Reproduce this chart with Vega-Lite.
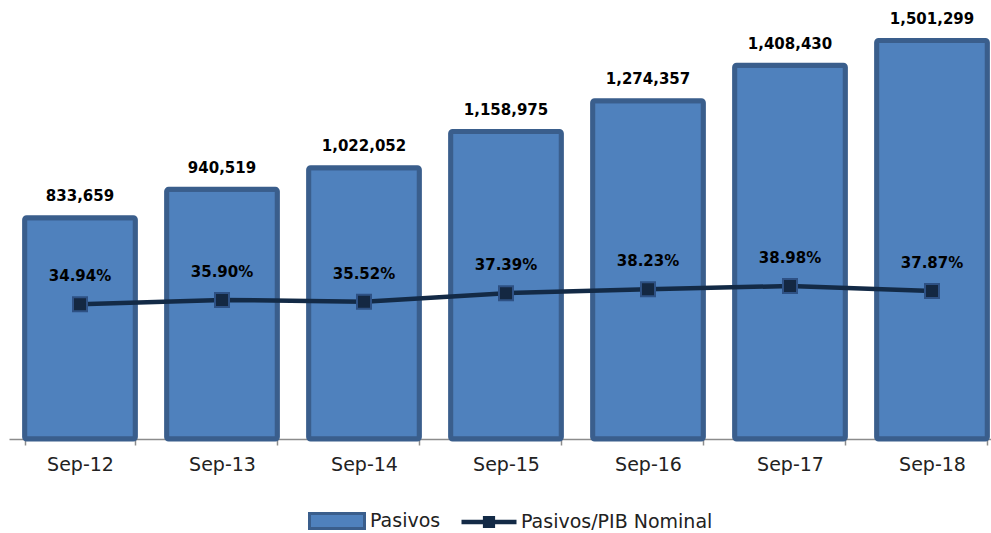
{
  "$schema": "https://vega.github.io/schema/vega-lite/v6.json",
  "autosize": "none",
  "width": 982,
  "height": 439,
  "padding": {"left": 9, "top": 0, "right": 0, "bottom": 94},
  "background": "white",
  "config": {
    "view": {"stroke": null},
    "font": "DejaVu Sans"
  },
  "data": {
    "values": [
      {"period": "Sep-12", "pasivos": 833659, "ratio": 0.3494},
      {"period": "Sep-13", "pasivos": 940519, "ratio": 0.3590},
      {"period": "Sep-14", "pasivos": 1022052, "ratio": 0.3552},
      {"period": "Sep-15", "pasivos": 1158975, "ratio": 0.3739},
      {"period": "Sep-16", "pasivos": 1274357, "ratio": 0.3823},
      {"period": "Sep-17", "pasivos": 1408430, "ratio": 0.3898},
      {"period": "Sep-18", "pasivos": 1501299, "ratio": 0.3787}
    ]
  },
  "encoding": {
    "x": {
      "field": "period",
      "type": "nominal",
      "sort": null,
      "scale": {"range": [0, 994], "paddingInner": 0.22, "paddingOuter": 0.11},
      "axis": {
        "title": null,
        "labelAngle": 0,
        "labelFont": "DejaVu Sans",
        "labelFontSize": 19,
        "labelColor": "#222222",
        "labelPadding": 10,
        "tickSize": 6,
        "tickBand": "extent",
        "tickColor": "#8C8C8C",
        "tickWidth": 1.5,
        "domainColor": "#8C8C8C",
        "domainWidth": 1.5,
        "grid": false
      }
    }
  },
  "layer": [
    {
      "mark": {"type": "bar", "stroke": "#3A5E8C", "strokeWidth": 5, "cornerRadius": 2},
      "encoding": {
        "y": {"field": "pasivos", "type": "quantitative", "scale": {"domain": [0, 1654000]}, "axis": null},
        "fill": {
          "datum": "Pasivos",
          "scale": {"domain": ["Pasivos"], "range": ["#4F81BD"]},
          "legend": {
            "orient": "none",
            "legendX": 299,
            "legendY": 492,
            "title": null,
            "padding": 0,
            "symbolType": "M-1,-0.27H1V0.27H-1Z",
            "symbolSize": 3025,
            "symbolStrokeColor": "#3A5E8C",
            "symbolStrokeWidth": 3,
            "labelFont": "DejaVu Sans",
            "labelFontSize": 19,
            "labelColor": "#222222",
            "labelOffset": 4,
            "labelLimit": 400
          }
        }
      }
    },
    {
      "mark": {"type": "text", "font": "DejaVu Sans", "fontWeight": "bold", "fontSize": 15, "color": "#000000", "baseline": "middle", "dy": -21.5},
      "encoding": {
        "y": {"field": "pasivos", "type": "quantitative", "scale": {"domain": [0, 1654000]}, "axis": null},
        "text": {"field": "pasivos", "type": "quantitative", "format": ","}
      }
    },
    {
      "mark": {"type": "line", "strokeWidth": 4.5},
      "encoding": {
        "y": {"field": "ratio", "type": "quantitative", "scale": {"domain": [0.052, 1.021]}, "axis": null},
        "stroke": {
          "datum": "Pasivos/PIB Nominal",
          "scale": {"domain": ["Pasivos/PIB Nominal"], "range": ["#132A46"]},
          "legend": {
            "orient": "none",
            "legendX": 450,
            "legendY": 492,
            "title": null,
            "padding": 0,
            "symbolType": "M-1,0H1M-0.14,-0.14H0.14V0.14H-0.14Z",
            "symbolSize": 3025,
            "symbolFillColor": "#142842",
            "symbolStrokeWidth": 4.5,
            "labelFont": "DejaVu Sans",
            "labelFontSize": 19,
            "labelColor": "#222222",
            "labelOffset": 2,
            "labelLimit": 400
          }
        }
      }
    },
    {
      "mark": {"type": "point", "shape": "square", "size": 196, "filled": true, "fill": "#142842", "stroke": "#2E5184", "strokeWidth": 2, "opacity": 1},
      "encoding": {
        "y": {"field": "ratio", "type": "quantitative", "scale": {"domain": [0.052, 1.021]}, "axis": null}
      }
    },
    {
      "mark": {"type": "text", "font": "DejaVu Sans", "fontWeight": "bold", "fontSize": 15, "color": "#000000", "baseline": "middle", "dy": -28},
      "encoding": {
        "y": {"field": "ratio", "type": "quantitative", "scale": {"domain": [0.052, 1.021]}, "axis": null},
        "text": {"field": "ratio", "type": "quantitative", "format": ".2%"}
      }
    }
  ],
  "resolve": {"scale": {"y": "independent"}}
}
